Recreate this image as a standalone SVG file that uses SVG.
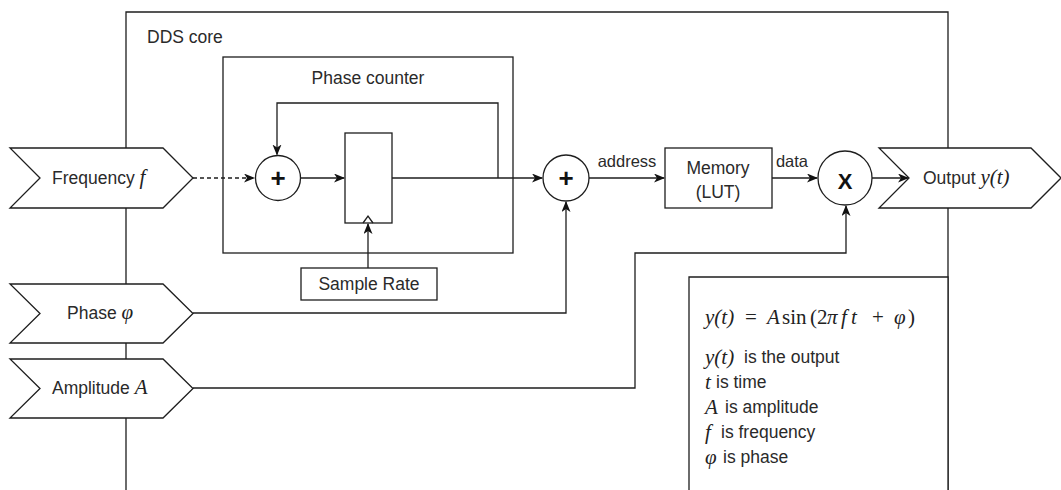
<svg xmlns="http://www.w3.org/2000/svg" width="1061" height="490" viewBox="0 0 1061 490">
<style>
.ln{fill:none;stroke:#1e1e1e;stroke-width:1.3}
.bx{fill:#fff;stroke:#1e1e1e;stroke-width:1.3}
.t{font-family:"Liberation Sans",Arial,sans-serif;font-size:17.5px;fill:#2a2a2a}
.s{font-size:16.5px}
.m{font-family:"Liberation Serif","DejaVu Serif",serif;font-style:italic;font-size:21px;fill:#222}
.r{font-style:normal}
.op{font-family:"Liberation Sans",Arial,sans-serif;font-weight:bold;fill:#111}
</style>
<defs>
<marker id="arr" markerUnits="userSpaceOnUse" markerWidth="12" markerHeight="10" refX="10" refY="4.5" orient="auto">
<path d="M0,0 L11,4.5 L0,9 L3,4.5 z" fill="#111"/>
</marker>
</defs>
<rect width="1061" height="490" fill="#fff"/>

<g id="dds-core">
<path class="ln" d="M126,495 V12 H948 V495"/>
<text class="t" x="147" y="43">DDS core</text>
</g>

<g id="phase-counter">
<rect class="bx" x="223" y="57" width="290" height="196"/>
<text class="t" x="368" y="84" text-anchor="middle">Phase counter</text>
</g>

<g id="register">
<rect class="bx" x="345" y="133" width="47" height="90"/>
<path class="ln" d="M363,223 L368,216 L373,223"/>
</g>

<g id="sample-rate">
<rect class="bx" x="301" y="268" width="136" height="32"/>
<text class="t" x="369" y="290" text-anchor="middle">Sample Rate</text>
</g>

<g id="adder1">
<circle class="bx" cx="278" cy="178" r="22.5"/>
<text class="op" x="278" y="187" font-size="26" text-anchor="middle">+</text>
</g>

<g id="adder2">
<circle class="bx" cx="566" cy="178" r="23"/>
<text class="op" x="566" y="187" font-size="26" text-anchor="middle">+</text>
</g>

<g id="memory">
<rect class="bx" x="665" y="148" width="107" height="60"/>
<text class="t" x="718" y="174" text-anchor="middle">Memory</text>
<text class="t" x="718" y="198" text-anchor="middle">(LUT)</text>
</g>

<g id="multiplier">
<circle class="bx" cx="845" cy="178" r="27"/>
<text class="op" x="845" y="188.5" font-size="22" text-anchor="middle">X</text>
</g>

<g id="formula">
<path class="bx" d="M689,495 V277 H948 V495"/>
<text class="m" x="705" y="324">y(t)<tspan class="r" x="745">=</tspan><tspan x="767">A</tspan><tspan class="r" x="782">sin</tspan><tspan class="r" x="810">(2</tspan><tspan x="827">π</tspan><tspan x="841">f</tspan><tspan x="851">t</tspan><tspan class="r" x="872">+</tspan><tspan x="894">φ</tspan><tspan class="r" x="908">)</tspan></text>
<text class="m" x="705" y="364">y(t)</text><text class="t" x="744" y="363">is the output</text>
<text class="m" x="705" y="389">t</text><text class="t" x="716" y="388">is time</text>
<text class="m" x="705" y="414">A</text><text class="t" x="725" y="413">is amplitude</text>
<text class="m" x="705" y="439">f</text><text class="t" x="721" y="438">is frequency</text>
<text class="m" x="705" y="464">φ</text><text class="t" x="723" y="463">is phase</text>
</g>

<g id="connectors">
<path class="ln" d="M193,178 H254" stroke-dasharray="4 3" marker-end="url(#arr)"/>
<path class="ln" d="M300.5,178 H344" marker-end="url(#arr)"/>
<path class="ln" d="M392,178 H542" marker-end="url(#arr)"/>
<path class="ln" d="M498,178 V103 H277 V154.5" marker-end="url(#arr)"/>
<path class="ln" d="M368,268 V224" marker-end="url(#arr)"/>
<path class="ln" d="M589,178 H664" marker-end="url(#arr)"/>
<text class="t s" x="627" y="167" text-anchor="middle">address</text>
<path class="ln" d="M772,178 H817" marker-end="url(#arr)"/>
<text class="t s" x="792" y="167" text-anchor="middle">data</text>
<path class="ln" d="M872,178 H908" marker-end="url(#arr)"/>
<path class="ln" d="M193,313 H566 V202" marker-end="url(#arr)"/>
<path class="ln" d="M193,388 H635 V253 H846 V206" marker-end="url(#arr)"/>
</g>

<g id="frequency">
<path class="bx" d="M10,148 H163 L193,178 L163,208 H10 L40,178 Z"/>
<text class="t" x="52" y="184">Frequency <tspan class="m" font-size="20">f</tspan></text>
</g>

<g id="phase">
<path class="bx" d="M10,284 H163 L193,313.5 L163,343 H10 L40,313.5 Z"/>
<text class="t" x="67" y="319">Phase <tspan class="m" font-size="20">φ</tspan></text>
</g>

<g id="amplitude">
<path class="bx" d="M10,359 H163 L193,388.5 L163,418 H10 L40,388.5 Z"/>
<text class="t" x="52" y="394">Amplitude <tspan class="m" font-size="20">A</tspan></text>
</g>

<g id="output">
<path class="bx" d="M879,148 H1031 L1061,178 L1031,208 H879 L909,178 Z"/>
<text class="t" x="923" y="184">Output <tspan class="m" font-size="20">y(t)</tspan></text>
</g>
</svg>
